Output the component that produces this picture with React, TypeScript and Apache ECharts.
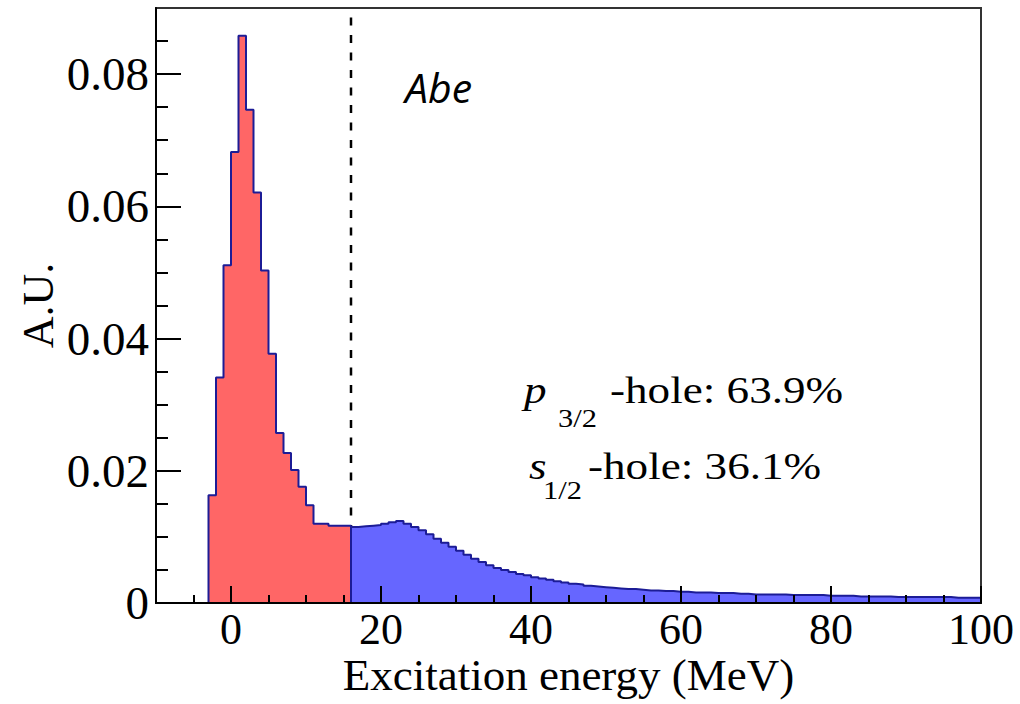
import React, { useEffect, useRef } from "react";
import * as echarts from "echarts";

// Histogram bins (1 MeV wide)
const binWidth = 1;
const redStart = -3; // p3/2-hole region, -3 .. 16 MeV
const redValues = [
  0.0163, 0.0341, 0.0511, 0.0682, 0.0858, 0.0746, 0.0621, 0.0503, 0.0377, 0.0257,
  0.0227, 0.0201, 0.0176, 0.0148, 0.012, 0.012, 0.0117, 0.0117, 0.0117,
];
const blueStart = 16; // s1/2-hole region, 16 .. 100 MeV
const blueValues = [
  0.0115, 0.0116, 0.0117, 0.0118, 0.012, 0.0122, 0.0124, 0.012, 0.0115, 0.011,
  0.0104, 0.0097, 0.0091, 0.0085, 0.0079, 0.0073, 0.0067, 0.0062, 0.0057, 0.0053,
  0.005, 0.0047, 0.0044, 0.0042, 0.0039, 0.0037, 0.0035, 0.0033, 0.0031, 0.0029,
  0.0028, 0.0026, 0.0025, 0.0024, 0.0023, 0.0022, 0.0021, 0.0021, 0.002, 0.0019,
  0.0019, 0.0018, 0.0018, 0.0017, 0.0017, 0.0016, 0.0016, 0.0016, 0.0015, 0.0015,
  0.0015, 0.0014, 0.0014, 0.0013, 0.0013, 0.0013, 0.0013, 0.0013, 0.0012, 0.0012,
  0.0012, 0.0012, 0.0012, 0.0011, 0.0011, 0.0011, 0.0011, 0.001, 0.001, 0.001,
  0.001, 0.001, 0.0009, 0.0009, 0.0009, 0.0009, 0.0009, 0.0009, 0.0009, 0.0009,
  0.0008, 0.0008, 0.0008, 0.0008,
];
const cutEnergy = 16;

const xMin = -10;
const xMax = 100;
const yMin = 0;
const yMax = 0.09;
const xTickLabels = [0, 20, 40, 60, 80, 100];
const xMinorTicks = [-5, 5, 10, 15, 25, 30, 35, 45, 50, 55, 65, 70, 75, 85, 90, 95];
const yTickLabels = [0, 0.02, 0.04, 0.06, 0.08];
const yMinorTicks = [
  0.005, 0.01, 0.015, 0.025, 0.03, 0.035, 0.045, 0.05, 0.055, 0.065, 0.07, 0.075, 0.085,
];

const xTitle = "Excitation energy (MeV)";
const yTitle = "A.U.";
const tag = "Abe";
const line1 = { sym: "p", sub: "3/2", rest: "-hole: 63.9%" };
const line2 = { sym: "s", sub: "1/2", rest: "-hole: 36.1%" };

function stepData(start: number, values: number[]) {
  const pts: number[][] = [[start, 0]];
  values.forEach((v, i) => pts.push([start + i * binWidth, v]));
  const end = start + values.length * binWidth;
  pts.push([end, values[values.length - 1]]);
  pts.push([end, 0]);
  return pts;
}

const SERIF = '"Liberation Serif", "Times New Roman", serif';

export default function App() {
  const ref = useRef<HTMLDivElement>(null);
  useEffect(() => {
    if (!ref.current) return;
    const chart = echarts.init(ref.current, null, { renderer: "svg" });
    const outline = "#1c1c96";
    const mainSize = 37;
    const subSize = 25;
    const sx = 1.22;
    const txt = (
      text: string,
      x: number,
      y: number,
      size: number,
      italic = false
    ) => ({
      type: "text",
      x,
      y,
      scaleX: sx,
      style: {
        text,
        fontFamily: SERIF,
        fontStyle: italic ? "italic" : "normal",
        fontSize: size,
        fill: "#000",
        align: "left",
        verticalAlign: "middle",
      },
    });
    const option: any = {
      animation: false,
      backgroundColor: "#fff",
      grid: {
        left: 156,
        right: 39,
        top: 8,
        bottom: 101,
        show: true,
        borderColor: "#333",
        borderWidth: 2,
        outerBoundsMode: "none",
        containLabel: false,
      },
      xAxis: [
        {
          type: "value",
          min: xMin,
          max: xMax,
          interval: 5,
          z: 10,
          name: xTitle,
          nameLocation: "middle",
          nameGap: 54,
          nameMoveOverlap: false,
          nameTextStyle: { fontFamily: SERIF, fontSize: 45, lineHeight: 36, color: "#000" },
          axisLine: { show: true, onZero: false, lineStyle: { color: "#000", width: 2 } },
          axisTick: {
            show: true,
            inside: true,
            length: 17,
            customValues: xTickLabels,
            lineStyle: { color: "#000", width: 2 },
          },
          axisLabel: {
            show: true,
            customValues: xTickLabels,
            margin: 8,
            fontFamily: SERIF,
            fontSize: 44,
            lineHeight: 36,
            color: "#000",
          },
          splitLine: { show: false },
        },
        {
          type: "value",
          min: xMin,
          max: xMax,
          interval: 5,
          position: "bottom",
          z: 10,
          axisLine: { show: false, onZero: false },
          axisTick: {
            show: true,
            inside: true,
            length: 8,
            customValues: xMinorTicks,
            lineStyle: { color: "#000", width: 2 },
          },
          axisLabel: { show: false },
          splitLine: { show: false },
        },
      ],
      yAxis: [
        {
          type: "value",
          min: yMin,
          max: yMax,
          interval: 0.005,
          z: 10,
          position: "left",
          name: yTitle,
          nameLocation: "middle",
          nameRotate: 90,
          nameGap: 96,
          nameMoveOverlap: false,
          nameTextStyle: { fontFamily: SERIF, fontSize: 44, color: "#000" },
          axisLine: { show: true, onZero: false, lineStyle: { color: "#000", width: 2 } },
          axisTick: {
            show: true,
            inside: true,
            length: 25,
            customValues: yTickLabels,
            lineStyle: { color: "#000", width: 2 },
          },
          axisLabel: {
            show: true,
            customValues: yTickLabels,
            margin: 7,
            fontFamily: SERIF,
            fontSize: 47,
            color: "#000",
            formatter: (v: number) => (v === 0 ? "0" : v.toFixed(2)),
          },
          splitLine: { show: false },
        },
        {
          type: "value",
          min: yMin,
          max: yMax,
          interval: 0.005,
          position: "left",
          z: 10,
          axisLine: { show: false, onZero: false },
          axisTick: {
            show: true,
            inside: true,
            length: 12,
            customValues: yMinorTicks,
            lineStyle: { color: "#000", width: 2 },
          },
          axisLabel: { show: false },
          splitLine: { show: false },
        },
      ],
      series: [
        {
          name: "cut",
          type: "line",
          z: 1,
          symbol: "none",
          silent: true,
          data: [
            [cutEnergy, yMin],
            [cutEnergy, yMax],
          ],
          lineStyle: { color: "#000", width: 2.5, type: [8, 9.5] },
        },
        {
          name: "p3/2-hole",
          type: "line",
          z: 2,
          step: "end",
          symbol: "none",
          data: stepData(redStart, redValues),
          lineStyle: { color: outline, width: 2 },
          areaStyle: { color: "#ff6666", opacity: 1 },
        },
        {
          name: "s1/2-hole",
          type: "line",
          z: 2,
          step: "end",
          symbol: "none",
          data: stepData(blueStart, blueValues),
          lineStyle: { color: outline, width: 2 },
          areaStyle: { color: "#6666ff", opacity: 1 },
        },
      ],
      graphic: [
        {
          type: "text",
          x: 405,
          y: 87,
          style: {
            text: tag,
            fontFamily: '"Open Sans", sans-serif',
            fontStyle: "italic",
            fontSize: 41,
            fill: "#000",
            align: "left",
            verticalAlign: "middle",
          },
        },
        txt(line1.sym, 524, 390, mainSize, true),
        txt(line1.sub, 558, 418, subSize),
        txt(line1.rest, 610, 390, mainSize),
        txt(line2.sym, 529, 466, mainSize, true),
        txt(line2.sub, 543, 490, subSize),
        txt(line2.rest, 588, 466, mainSize),
      ],
    };
    chart.setOption(option);
    return () => chart.dispose();
  }, []);
  return (
    <div
      ref={ref}
      style={{ position: "fixed", left: 0, top: 0, width: 1020, height: 704, background: "#fff" }}
    />
  );
}
